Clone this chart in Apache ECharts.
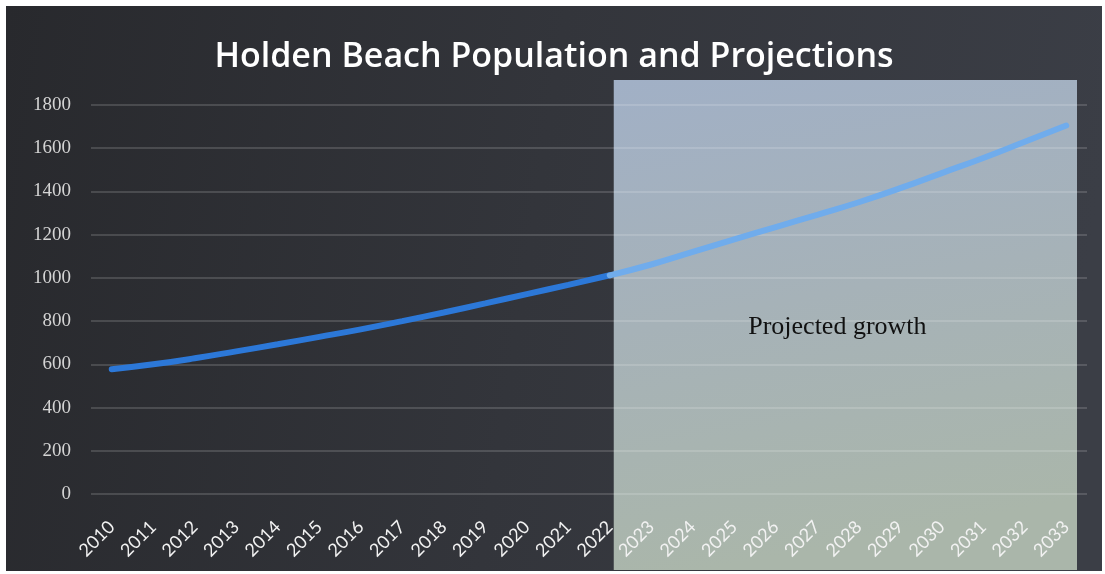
<!DOCTYPE html>
<html>
<head>
<meta charset="utf-8">
<script src="https://cdn.jsdelivr.net/npm/echarts@6/dist/echarts.min.js"></script>
<style>
html,body{margin:0;padding:0;background:#ffffff;width:1105px;height:574px;overflow:hidden;}
#chart{position:absolute;left:6px;top:6px;width:1096px;height:565px;}
</style>
</head>
<body>
<div id="chart"></div>
<script>
const years = ['2010','2011','2012','2013','2014','2015','2016','2017','2018','2019','2020','2021','2022','2023','2024','2025','2026','2027','2028','2029','2030','2031','2032','2033'];
const population = [577,600,628,660,693,727,762,800,840,882,925,968,1012,1062,1120,1178,1235,1292,1350,1415,1485,1555,1630,1705];
const projectionStart = '2022';
const yTicks = {min:0, max:1800, interval:200};
const titleText = 'Holden Beach Population and Projections';
const noteText = 'Projected growth';

const chart = echarts.init(document.getElementById('chart'), null, {renderer:'canvas'});
const splitIdx = years.indexOf(projectionStart);
const actual = population.map((v,i) => i <= splitIdx ? v : null);
const projected = population.map((v,i) => i >= splitIdx ? v : null);

const option = {
  animation:false,
  backgroundColor:{type:'linear',x:0,y:0,x2:1,y2:0.3,colorStops:[
    {offset:0,color:'#28292d'},{offset:0.5,color:'#33353b'},{offset:1,color:'#3b3e46'}]},
  title:{text:titleText,left:'center',top:29,
    textStyle:{color:'#ffffff',fontFamily:'Open Sans',fontWeight:600,fontSize:34}},
  grid:{left:85,right:15,top:99,bottom:77,containLabel:false},
  xAxis:{type:'category',data:years,boundaryGap:true,
    axisLine:{show:false},axisTick:{show:false},
    axisLabel:{rotate:45,color:'#f2f2f2',fontFamily:'Lato',fontSize:18,margin:30,interval:0}},
  yAxis:{type:'value',min:yTicks.min,max:yTicks.max,interval:yTicks.interval,
    axisLine:{show:false},axisTick:{show:false},
    axisLabel:{color:'#d4d4d4',fontFamily:'Liberation Serif',fontSize:19,margin:20,
      formatter:v => String(v)},
    splitLine:{lineStyle:{color:'rgba(255,255,255,0.2)',width:1.5}}},
  series:[
    {type:'line',data:actual,smooth:true,showSymbol:false,
     lineStyle:{width:6,cap:'round',color:'#2c78d8'},z:5},
    {type:'line',data:projected,smooth:true,showSymbol:false,
     lineStyle:{width:6,cap:'round',color:'#70acec'},z:5}
  ]
};
chart.setOption(option);

const x0 = chart.convertToPixel({xAxisIndex:0}, projectionStart) + 4;
const rectRight = 1071, rectTop = 74, rectBottom = 564;
chart.setOption({
  graphic:[
    {type:'rect',z:-1,silent:true,
     shape:{x:x0,y:rectTop,width:rectRight-x0,height:rectBottom-rectTop},
     style:{fill:{type:'linear',x:0,y:0,x2:0.2,y2:1,colorStops:[
       {offset:0,color:'#a1b0c6'},{offset:0.5,color:'#a6b2b8'},{offset:1,color:'#aab6aa'}]}}},
    {type:'text',z:10,silent:true,
     x:(x0+rectRight)/2 - 8, y:321,
     style:{text:noteText,fill:'#111111',font:'26px "Liberation Serif"',textAlign:'center',textVerticalAlign:'middle'}}
  ]
});
</script>
</body>
</html>
